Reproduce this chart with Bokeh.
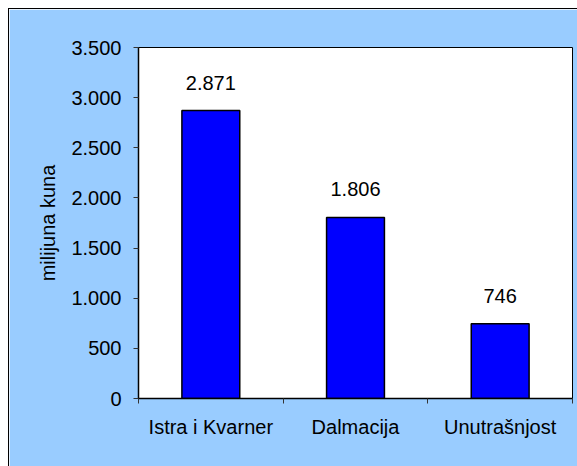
from bokeh.plotting import figure
from bokeh.models import Range1d, FixedTicker, ColumnDataSource
from bokeh.core.properties import value
from bokeh.embed import file_html
from bokeh.resources import INLINE

categories = ["Istra i Kvarner", "Dalmacija", "Unutrašnjost"]
values = [2871, 1806, 746]
y_ticks = [0, 500, 1000, 1500, 2000, 2500, 3000, 3500]
y_tick_labels = ["0", "500", "1.000", "1.500", "2.000", "2.500", "3.000", "3.500"]
y_label = "milijuna kuna"

FONT = "Liberation Sans"
FS = "20px"

xpos = [i + 0.5 for i in range(len(categories))]
labels = [f"{v:,}".replace(",", ".") for v in values]
src = ColumnDataSource(dict(x=xpos, top=values, label=labels))

p = figure(width=569, height=458, output_backend="svg", toolbar_location=None,
           x_range=Range1d(0, len(categories)), y_range=Range1d(0, 3500),
           min_border_left=129, min_border_right=6, min_border_top=38, min_border_bottom=69)
p.margin = (8, 0, 0, 8)
p.styles = {"border-top": "1px solid black", "border-left": "1px solid black"}
p.background_fill_color = "white"
p.border_fill_color = "#99CCFF"
p.outline_line_color = "black"
p.outline_line_width = 1
p.xgrid.visible = False
p.ygrid.visible = False

p.vbar(x="x", top="top", width=0.4, bottom=0, source=src,
       fill_color="#0000FF", line_color="black", line_width=1.5)
p.text(x="x", y="top", text="label", source=src, text_align="center",
       text_baseline="alphabetic", y_offset=-28,
       text_font=value(FONT), text_font_size=FS, text_color="black")

# y axis
ya = p.yaxis[0]
ya.ticker = FixedTicker(ticks=y_ticks, minor_ticks=[])
ya.major_label_overrides = {t: l for t, l in zip(y_ticks, y_tick_labels)}
ya.axis_label = y_label
ya.axis_label_text_font = FONT
ya.axis_label_text_font_size = FS
ya.axis_label_text_font_style = "normal"
ya.axis_label_text_color = "black"
ya.axis_label_standoff = 9
ya.major_label_text_font = FONT
ya.major_label_text_font_size = FS
ya.major_label_text_color = "black"
ya.major_label_standoff = 12
ya.major_tick_out = 5
ya.major_tick_in = 0
ya.major_tick_line_color = "#333333"
ya.minor_tick_line_color = None
ya.axis_line_color = "black"
ya.axis_line_width = 1.5

# x axis
xa = p.xaxis[0]
xa.ticker = FixedTicker(ticks=xpos, minor_ticks=list(range(len(categories) + 1)))
xa.major_label_overrides = {x: c for x, c in zip(xpos, categories)}
xa.major_label_text_font = FONT
xa.major_label_text_font_size = FS
xa.major_label_text_color = "black"
xa.major_label_standoff = 12
xa.major_tick_line_color = None
xa.major_tick_out = 0
xa.major_tick_in = 0
xa.minor_tick_out = 5
xa.minor_tick_in = 0
xa.minor_tick_line_color = "#333333"
xa.axis_line_color = "black"
xa.axis_line_width = 1.5

open("out.html", "w").write(file_html(p, INLINE))
